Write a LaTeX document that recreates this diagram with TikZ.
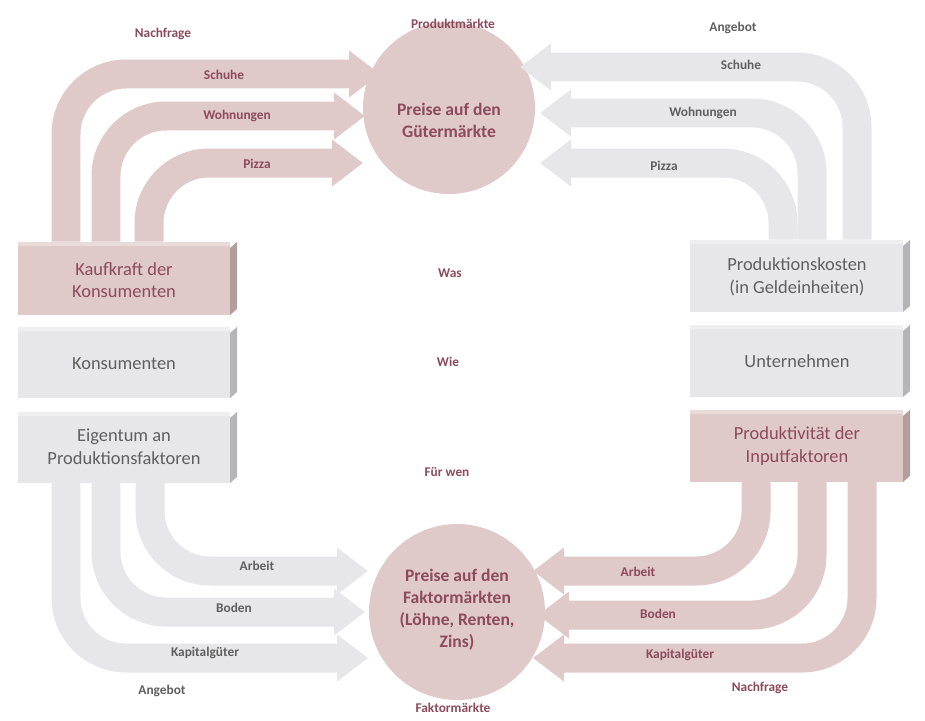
\documentclass[tikz,border=0pt]{standalone}
\usepackage{fontspec}
\setmainfont{Carlito}
\usetikzlibrary{arrows.meta}

\definecolor{rosefill}{HTML}{DFC9C9}
\definecolor{rosetext}{HTML}{8C4A5C}
\definecolor{rosedark}{HTML}{B39E9E}
\definecolor{greyfill}{HTML}{E7E7E9}
\definecolor{greytext}{HTML}{5F5F5F}
\definecolor{greydark}{HTML}{B5B5B8}

\tikzset{
  band/.style={line width=0.58cm, rounded corners=1.2cm,
    -{Triangle[length=0.62cm,width=0.9cm]}},
  lbl/.style={font=\fontsize{7.6}{9}\selectfont\bfseries},
  boxtext/.style={font=\fontsize{10.5}{13}\selectfont, align=center},
  circtext/.style={font=\fontsize{10}{12.5}\selectfont\bfseries, align=center, text=rosetext}
}

% Kasten mit seitlicher Kante
\newcommand{\bevelbox}[6]{% x1,y1,x2,y2,fill,side
  \fill[#5] (#1,#2) rectangle (#3,#4);
  \fill[#6] (#3,#2+6) -- (#3+7,#2) -- (#3+7,#4-6) -- (#3,#4) -- cycle;
  \fill[white,opacity=0.35] (#1,#2) -- (#1+7,#2-1) -- (#3+7,#2-1) -- (#3,#2+4) -- (#1,#2+4) -- cycle;
}

\begin{document}
\begin{tikzpicture}[x=0.02cm, y=-0.02cm]
  \useasboundingbox (0,0) rectangle (925,720);

  % ---- Kreise ----
  \fill[rosefill] (449,108) circle[radius=86];
  \fill[rosefill] (457,612) circle[radius=88];
  \node[circtext] (gueter) at (449,120) {Preise auf den\\Gütermärkte};
  \node[circtext] (faktor) at (457,610) {Preise auf den\\Faktormärkten\\(Löhne, Renten,\\Zins)};

  % ---- oben links: Nachfrage ----
  \draw[band, rosefill] (66,245) |- (380,74);
  \draw[band, rosefill] (106,245) |- (365,116);
  \draw[band, rosefill] (149,245) |- (363,163);

  % ---- oben rechts: Angebot ----
  \draw[band, greyfill] (857,243) |- (520,67);
  \draw[band, greyfill] (812,243) |- (540,113);
  \draw[band, greyfill] (783,243) |- (540,163);

  % ---- unten links: Angebot ----
  \draw[band, greyfill] (150,480) |- (368,571);
  \draw[band, greyfill] (106,480) |- (365,612);
  \draw[band, greyfill] (66,480) |- (368,658);

  % ---- unten rechts: Nachfrage ----
  \draw[band, rosefill] (756,480) |- (533,571);
  \draw[band, rosefill] (812,480) |- (538,615);
  \draw[band, rosefill] (862,480) |- (533,658);

  % ---- Kästen ----
  \bevelbox{18}{242}{230}{315}{rosefill}{rosedark}
  \bevelbox{18}{327}{230}{398}{greyfill}{greydark}
  \bevelbox{18}{412}{230}{483}{greyfill}{greydark}
  \bevelbox{690}{240}{903}{312}{greyfill}{greydark}
  \bevelbox{690}{325}{903}{397}{greyfill}{greydark}
  \bevelbox{690}{410}{903}{482}{rosefill}{rosedark}

  \node[boxtext, text=rosetext] (kaufkraft) at (124,280) {Kaufkraft der\\Konsumenten};
  \node[boxtext, text=greytext] (konsum) at (124,364) {Konsumenten};
  \node[boxtext, text=greytext] (eigentum) at (124,447) {Eigentum an\\Produktionsfaktoren};
  \node[boxtext, text=greytext] (kosten) at (797,277) {Produktionskosten\\(in Geldeinheiten)};
  \node[boxtext, text=greytext] (unternehmen) at (797,361) {Unternehmen};
  \node[boxtext, text=rosetext] (produktiv) at (797,446) {Produktivität der\\Inputfaktoren};

  % ---- Beschriftungen ----
  \node[lbl, text=rosetext] (nachfrageO) at (163,34) {Nachfrage};
  \node[lbl, text=rosetext] (produktm) at (453,24) {Produktmärkte};
  \node[lbl, text=greytext] (angebotO) at (733,28) {Angebot};
  \node[lbl, text=rosetext] (schuheL) at (224,75) {Schuhe};
  \node[lbl, text=rosetext] (wohnL) at (237,116) {Wohnungen};
  \node[lbl, text=rosetext] (pizzaL) at (257,164) {Pizza};
  \node[lbl, text=greytext] (schuheR) at (741,65) {Schuhe};
  \node[lbl, text=greytext] (wohnR) at (703,113) {Wohnungen};
  \node[lbl, text=greytext] (pizzaR) at (664,166) {Pizza};
  \node[lbl, text=rosetext] (was) at (450,273) {Was};
  \node[lbl, text=rosetext] (wie) at (448,362) {Wie};
  \node[lbl, text=rosetext] (fuerwen) at (447,472) {Für wen};
  \node[lbl, text=greytext] (arbeitL) at (257,566) {Arbeit};
  \node[lbl, text=greytext] (bodenL) at (234,608) {Boden};
  \node[lbl, text=greytext] (kapitalL) at (205,653) {Kapitalgüter};
  \node[lbl, text=greytext] (angebotU) at (162,691) {Angebot};
  \node[lbl, text=rosetext] (faktorm) at (453,708) {Faktormärkte};
  \node[lbl, text=rosetext] (arbeitR) at (638,572) {Arbeit};
  \node[lbl, text=rosetext] (bodenR) at (658,614) {Boden};
  \node[lbl, text=rosetext] (kapitalR) at (680,655) {Kapitalgüter};
  \node[lbl, text=rosetext] (nachfrageU) at (760,688) {Nachfrage};
\end{tikzpicture}
\end{document}
